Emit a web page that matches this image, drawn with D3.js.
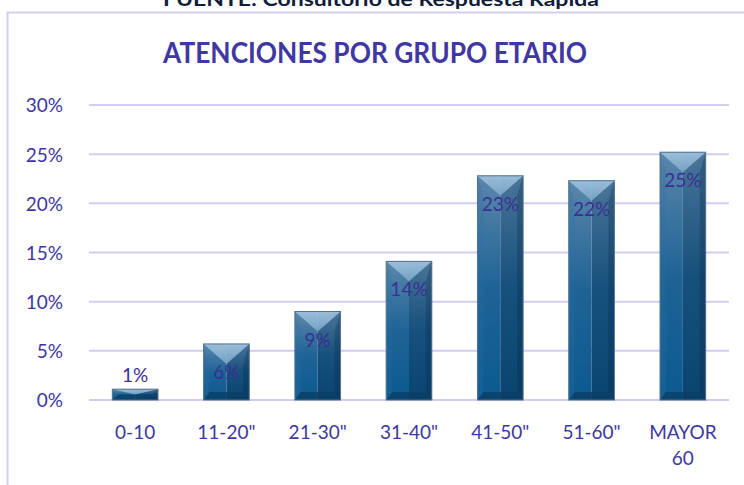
<!DOCTYPE html>
<html>
<head>
<meta charset="utf-8">
<script src="https://cdn.jsdelivr.net/npm/d3@7"></script>
<style>
  body { margin: 0; background: #fff; }
  text { font-family: Lato, "Open Sans", sans-serif; }
</style>
</head>
<body>
<script>
// Atenciones por grupo etario - bar chart, bevelled blue bars

const categories = ['0-10', '11-20"', '21-30"', '31-40"', '41-50"', '51-60"', 'MAYOR 60'];
const values = [0.011, 0.057, 0.09, 0.141, 0.228, 0.223, 0.252];
const labels = ['1%', '6%', '9%', '14%', '23%', '22%', '25%'];
const yTicks = [0, 0.05, 0.10, 0.15, 0.20, 0.25, 0.30];

const width = 744, height = 485;
const textColor = '#3d37a0';

const svg = d3.select('body').append('svg')
  .attr('width', width)
  .attr('height', height);

const defs = svg.append('defs');
function vgrad(id, stops) {
  const g = defs.append('linearGradient').attr('id', id)
    .attr('x1', 0).attr('y1', 0).attr('x2', 0).attr('y2', 1);
  stops.forEach(s => g.append('stop').attr('offset', s[0]).attr('stop-color', s[1]));
}
vgrad('faceL', [[0, '#5b87ab'], [0.5, '#1f6396'], [1, '#0b5a90']]);
vgrad('faceR', [[0, '#4a7598'], [0.5, '#16507c'], [1, '#0a4470']]);
vgrad('topG', [[0, '#a2c4e0'], [1, '#7aa6c8']]);

// source line, cut off at the top
svg.append('text')
  .attr('x', 381).attr('y', 5.5)
  .attr('text-anchor', 'middle')
  .attr('font-family', '"Liberation Sans", Arial, sans-serif')
  .attr('font-weight', 'bold')
  .attr('font-size', 19)
  .attr('textLength', 436)
  .attr('lengthAdjust', 'spacingAndGlyphs')
  .attr('fill', '#111c3a')
  .text('FUENTE: Consultorio de Respuesta Rápida');

// chart frame
svg.append('rect')
  .attr('x', 7.5).attr('y', 12.5)
  .attr('width', 740).attr('height', 490)
  .attr('fill', 'none')
  .attr('stroke', '#d3cdef')
  .attr('stroke-width', 2);

svg.append('text')
  .attr('x', 375).attr('y', 63)
  .attr('text-anchor', 'middle')
  .attr('font-weight', 'bold')
  .attr('font-size', 29)
  .attr('textLength', 424)
  .attr('lengthAdjust', 'spacingAndGlyphs')
  .attr('fill', '#3f37a2')
  .text('ATENCIONES POR GRUPO ETARIO');

const xScale = d3.scaleBand()
  .domain(categories)
  .range([89.5, 728.5])
  .paddingInner(0.5)
  .paddingOuter(0.25);

const yScale = d3.scaleLinear()
  .domain([0, 0.30])
  .range([400, 105]);

// grid
svg.append('g')
  .selectAll('line')
  .data(yTicks)
  .enter().append('line')
  .attr('x1', 89).attr('x2', 729)
  .attr('y1', d => yScale(d)).attr('y2', d => yScale(d))
  .attr('stroke', '#d3cbf0')
  .attr('stroke-width', 2);

// y axis
const yAxis = svg.append('g')
  .attr('transform', 'translate(66,0)')
  .call(d3.axisLeft(yScale).tickValues(yTicks).tickFormat(d3.format('.0%')).tickSize(0));
yAxis.select('.domain').remove();
yAxis.selectAll('text')
  .attr('font-size', 19)
  .attr('fill', textColor)
  .attr('font-family', 'Lato, sans-serif')
  .attr('dx', 0)
  .attr('dy', '0.36em');

// x axis
const xAxis = svg.append('g')
  .attr('transform', 'translate(0,400)')
  .call(d3.axisBottom(xScale).tickSize(0).tickFormat(''));
xAxis.select('.domain').remove();
xAxis.selectAll('.tick').each(function(d) {
  const t = d3.select(this).append('text')
    .attr('text-anchor', 'middle')
    .attr('font-size', 19)
    .attr('font-family', 'Lato, sans-serif')
    .attr('fill', textColor);
  const parts = d === 'MAYOR 60' ? ['MAYOR', '60'] : [d];
  parts.forEach((p, i) => {
    t.append('tspan').attr('x', 0).attr('y', 39 + i * 26).text(p);
  });
});

// bevelled bars
const bars = svg.append('g')
  .selectAll('g')
  .data(values)
  .enter().append('g');

bars.each(function(v, i) {
  const g = d3.select(this);
  const x0 = xScale(categories[i]);
  const w = xScale.bandwidth();
  const x1 = x0 + w;
  const y0 = yScale(v);
  const y1 = yScale(0);
  const h = y1 - y0;
  const bt = Math.min(20, h / 2);   // top bevel depth (apex)
  const bb = Math.min(8, h / 2);    // bottom bevel
  const bs = Math.min(6, w / 2);    // side bevel
  const xm = x0 + w / 2;

  g.append('rect').attr('x', x0).attr('y', y0).attr('width', w / 2).attr('height', h)
    .attr('fill', 'url(#faceL)');
  g.append('rect').attr('x', xm).attr('y', y0).attr('width', w / 2).attr('height', h)
    .attr('fill', 'url(#faceR)');
  // left and right edges
  g.append('polygon')
    .attr('points', [[x0, y0], [x0 + bs, y0 + bt], [x0 + bs, y1 - bb], [x0, y1]].join(' '))
    .attr('fill', '#2a6ea3').attr('opacity', 0.25);
  g.append('polygon')
    .attr('points', [[x1, y0], [x1 - bs, y0 + bt], [x1 - bs, y1 - bb], [x1, y1]].join(' '))
    .attr('fill', '#062c4c').attr('opacity', 0.3);
  // top bevel: V shape
  g.append('polygon')
    .attr('points', [[x0, y0], [x1, y0], [xm, y0 + bt]].join(' '))
    .attr('fill', 'url(#topG)').attr('opacity', 0.9);
  // bottom bevel
  g.append('polygon')
    .attr('points', [[x0, y1], [x1, y1], [x1 - bs, y1 - bb], [x0 + bs, y1 - bb]].join(' '))
    .attr('fill', '#0a3f66').attr('opacity', 0.8);
  g.append('rect').attr('x', x0).attr('y', y0).attr('width', w).attr('height', h)
    .attr('fill', 'none').attr('stroke', '#55708a').attr('stroke-width', 1);
});

// value labels: inside near the top, above when bar is too short
svg.append('g')
  .selectAll('text')
  .data(values)
  .enter().append('text')
  .attr('x', (d, i) => xScale(categories[i]) + xScale.bandwidth() / 2)
  .attr('y', d => (yScale(0) - yScale(d) < 40) ? yScale(d) - 7 : yScale(d) + 35)
  .attr('text-anchor', 'middle')
  .attr('font-size', 19)
  .attr('fill', '#3a2f94')
  .text((d, i) => labels[i]);
</script>
</body>
</html>
